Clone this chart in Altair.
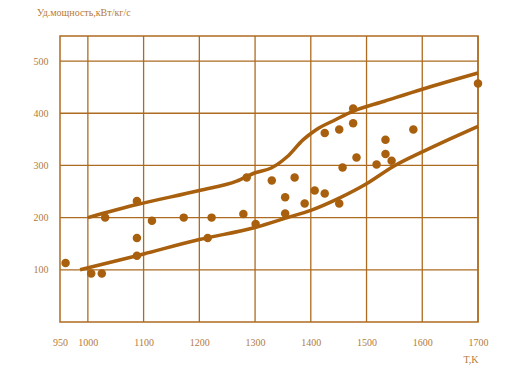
import altair as alt
import pandas as pd

# Scatter data (temperature K, specific power kW/kg/s)
pts_T = [960, 1006, 1025, 1031, 1088, 1088, 1088, 1115, 1172, 1215, 1222, 1279,
         1285, 1301, 1330, 1354, 1354, 1371, 1389, 1407, 1425, 1425, 1451, 1451,
         1457, 1476, 1476, 1482, 1518, 1534, 1534, 1545, 1584, 1700]
pts_P = [113, 93, 93, 200, 232, 161, 127, 194, 200, 161, 200, 207,
         277, 188, 271, 239, 208, 277, 227, 252, 246, 362, 369, 227,
         296, 409, 381, 315, 302, 349, 322, 309, 369, 457]

# Upper envelope curve
up_T = [1000, 1088, 1200, 1267, 1300, 1329, 1358, 1386, 1409, 1445, 1476, 1532, 1600, 1700]
up_P = [200, 225, 252, 270, 286, 295, 317, 349, 368, 388, 404, 423, 446, 477]

# Lower envelope curve
lo_T = [986, 1088, 1200, 1300, 1358, 1400, 1450, 1500, 1548, 1600, 1650, 1700]
lo_P = [100, 127, 158, 181, 200, 214, 237, 265, 298, 326, 351, 375]

x_ticks = [950, 1000, 1100, 1200, 1300, 1400, 1500, 1600, 1700]
y_ticks = [100, 200, 300, 400, 500]
x_domain = [950, 1700]
y_domain = [0, 548]

BROWN = "#A85F0E"
GRID = "#AD6B20"
TEXT = "#B47B3C"
FONT = "Liberation Serif"

pts = pd.DataFrame({"T": pts_T, "P": pts_P})
up = pd.DataFrame({"T": up_T, "P": up_P})
lo = pd.DataFrame({"T": lo_T, "P": lo_P})

# grid lines: one two-point segment per tick, spanning the scale domain
grid_rows = []
for t in x_ticks[1:]:
    grid_rows.append({"g": f"x{t}", "o": 0, "T": t, "P": y_domain[0]})
    grid_rows.append({"g": f"x{t}", "o": 1, "T": t, "P": y_domain[1]})
for p in y_ticks:
    grid_rows.append({"g": f"y{p}", "o": 0, "T": x_domain[0], "P": p})
    grid_rows.append({"g": f"y{p}", "o": 1, "T": x_domain[1], "P": p})
grid = pd.DataFrame(grid_rows)

xs = alt.Scale(domain=x_domain, nice=False, zero=False)
ys = alt.Scale(domain=y_domain, nice=False, zero=False)

x_axis = alt.Axis(values=x_ticks, grid=False, domain=False, ticks=False,
                  labelPadding=15, labelFontSize=10, labelFont=FONT, labelColor=TEXT,
                  titleFont=FONT, titleFontSize=10, titleFontWeight="normal",
                  titleColor=TEXT, titleAnchor="end", titlePadding=7,
                  format="d", labelFlush=False)
y_axis = alt.Axis(values=y_ticks, grid=False, domain=False, ticks=False,
                  labelPadding=12, labelFontSize=10, labelFont=FONT, labelColor=TEXT)

gridlines = alt.Chart(grid).mark_line(color=GRID, strokeWidth=1.3).encode(
    x=alt.X("T:Q", scale=xs, axis=x_axis, title="T,K"),
    y=alt.Y("P:Q", scale=ys, axis=y_axis, title=None),
    detail="g:N",
    order="o:Q",
)
points = alt.Chart(pts).mark_circle(size=72, color=BROWN, opacity=1).encode(
    x=alt.X("T:Q", scale=xs, axis=x_axis, title="T,K"),
    y=alt.Y("P:Q", scale=ys, axis=y_axis, title=None),
)
upper = alt.Chart(up).mark_line(color=BROWN, strokeWidth=3.5, interpolate="monotone").encode(
    x=alt.X("T:Q", scale=xs), y=alt.Y("P:Q", scale=ys))
lower = alt.Chart(lo).mark_line(color=BROWN, strokeWidth=3.5, interpolate="monotone").encode(
    x=alt.X("T:Q", scale=xs), y=alt.Y("P:Q", scale=ys))

chart = alt.layer(gridlines, upper, lower, points).properties(
    width=418, height=286,
    autosize=alt.AutoSizeParams(type="none"),
    padding={"left": 52, "top": 28, "right": 30, "bottom": 46},
    background="white",
    title=alt.TitleParams("Уд.мощность,кВт/кг/с", anchor="start", frame="group",
                          dx=-23, offset=15, font=FONT, fontSize=10,
                          fontWeight="normal", color=TEXT),
).configure_view(
    stroke=GRID, strokeWidth=1.5,
)

chart.save("out.html", embed_options={"renderer": "svg", "actions": False})
